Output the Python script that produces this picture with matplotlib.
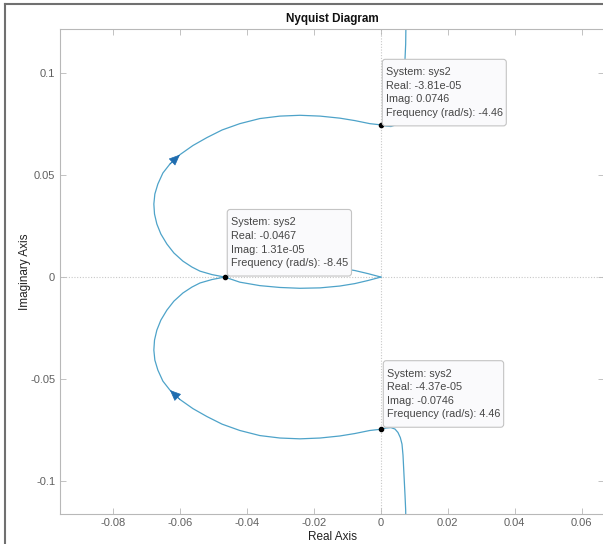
import matplotlib
matplotlib.use('Agg')
import matplotlib.pyplot as plt
from matplotlib.lines import Line2D
from matplotlib.patches import FancyBboxPatch
from matplotlib.transforms import IdentityTransform

# Nyquist curve, positive frequencies
pos_real = [0.0076, 0.0074, 0.0072, 0.0069, 0.0066, 0.0063, 0.0058, 0.0051,
            0.0042, 0.0030, 0.0015, 0.0, -0.0033, -0.0078, -0.0123, -0.0182,
            -0.0242, -0.0302, -0.0362, -0.0422, -0.0475, -0.0520, -0.0562,
            -0.0601, -0.0631, -0.0652, -0.0667, -0.0676, -0.0679, -0.0677,
            -0.0670, -0.0658, -0.0640, -0.0619, -0.0592, -0.0565, -0.0541,
            -0.0505, -0.0467, -0.0422, -0.0362, -0.0302, -0.0242, -0.0182,
            -0.0123, -0.0078, -0.0039, 0.0]
pos_imag = [-0.1387, -0.1142, -0.1069, -0.0971, -0.0873, -0.0819, -0.0787, -0.0762,
            -0.0745, -0.0738, -0.0740, -0.0746, -0.0752, -0.0767, -0.0779, -0.0789,
            -0.0793, -0.0789, -0.0777, -0.0752, -0.0721, -0.0684, -0.0645,
            -0.0600, -0.0554, -0.0510, -0.0456, -0.0407, -0.0358, -0.0309,
            -0.0260, -0.0211, -0.0162, -0.0118, -0.0078, -0.0049, -0.0029,
            -0.0012, 0.0, 0.0025, 0.0042, 0.0051, 0.0055, 0.0053,
            0.0044, 0.0032, 0.0017, 0.0]

# negative frequencies = complex conjugate
neg_real = list(pos_real)
neg_imag = [-v for v in pos_imag]

# data tips
tip_real = [-3.81e-05, -0.0467, -4.37e-05]
tip_imag = [0.0746, 1.31e-05, -0.0746]
tip_freq = [-4.46, -8.45, 4.46]
tip_offsets = [(5, 7), (6, 9), (6, 10)]

xticks = [-0.08, -0.06, -0.04, -0.02, 0, 0.02, 0.04, 0.06]
xtick_labels = ['-0.08', '-0.06', '-0.04', '-0.02', '0', '0.02', '0.04', '0.06']
yticks = [-0.1, -0.05, 0, 0.05, 0.1]
ytick_labels = ['-0.1', '-0.05', '0', '0.05', '0.1']

plt.rcParams['font.family'] = ['Liberation Sans', 'DejaVu Sans']
plt.rcParams['axes.unicode_minus'] = False

curve_color = '#4ea3c9'
arrow_color = '#1f6db0'
axis_gray = '#b8b8b8'
label_gray = '#606060'

fig = plt.figure(figsize=(6.03, 5.44), dpi=100)
ax = fig.add_axes([60 / 603, 1 - 513.5 / 544, 544 / 603, (513.5 - 29) / 544])

ax.set_xlim(-0.09596, 0.0667)
ax.set_ylim(-0.1159, 0.1216)

# zero lines
ax.axhline(0, color='#c8c8c8', lw=0.8, ls=(0, (1, 1.5)), zorder=1)
ax.axvline(0, color='#c8c8c8', lw=0.8, ls=(0, (1, 1.5)), zorder=1)

ax.plot(pos_real, pos_imag, color=curve_color, lw=0.9, zorder=2)
ax.plot(neg_real, neg_imag, color=curve_color, lw=0.9, zorder=2)

# direction arrows
arrow_style = dict(arrowstyle='-|>,head_length=0.7,head_width=0.3',
                   color=arrow_color, lw=0.5, shrinkA=0, shrinkB=0)
ax.annotate('', xy=(pos_real[24], pos_imag[24]), xytext=(pos_real[23], pos_imag[23]),
            arrowprops=arrow_style, zorder=3)
ax.annotate('', xy=(neg_real[23], neg_imag[23]), xytext=(neg_real[24], neg_imag[24]),
            arrowprops=arrow_style, zorder=3)

# data tips (text first, boxes sized from the text afterwards)
tip_texts = []
for re_, im_, fr, off in zip(tip_real, tip_imag, tip_freq, tip_offsets):
    ax.plot([re_], [im_], 'o', color='black', ms=3, zorder=5)
    txt = 'System: sys2\nReal: %.3g\nImag: %.3g\nFrequency (rad/s): %.3g' % (re_, im_, fr)
    t = ax.annotate(txt, xy=(re_, im_), xytext=off, textcoords='offset pixels',
                    ha='left', va='bottom', fontsize=7.8, color='#454545',
                    linespacing=1.44, zorder=7)
    tip_texts.append(t)

ax.set_xticks(xticks)
ax.set_xticklabels(xtick_labels)
ax.set_yticks(yticks)
ax.set_yticklabels(ytick_labels)
ax.tick_params(direction='in', length=4, width=0.6, colors=axis_gray,
               labelcolor=label_gray, labelsize=8, top=True, right=True)
for s in ax.spines.values():
    s.set_color(axis_gray)
    s.set_linewidth(0.8)

ax.set_title('Nyquist Diagram', fontsize=8.4, fontweight='bold', color='#111111', pad=5)
ax.set_xlabel('Real Axis', fontsize=8.5, color='#222222', labelpad=2)
ax.set_ylabel('Imaginary Axis', fontsize=8.5, color='#222222', labelpad=-1)

# window frame
fig.add_artist(Line2D([5 / 603, 5 / 603], [0, 1 - 4 / 544], transform=fig.transFigure,
                      color='#707070', lw=1.5))
fig.add_artist(Line2D([5 / 603, 1], [1 - 4 / 544, 1 - 4 / 544], transform=fig.transFigure,
                      color='#707070', lw=1.5))

fig.canvas.draw()
renderer = fig.canvas.get_renderer()
pad_x, pad_y = 3.5, 8
for t in tip_texts:
    bb = t.get_window_extent(renderer)
    box = FancyBboxPatch((bb.x0 - pad_x, bb.y0 - pad_y), bb.width + 2 * pad_x,
                         bb.height + 2 * pad_y,
                         boxstyle='round,pad=0,rounding_size=3',
                         transform=IdentityTransform(), fc='#fafafc', ec='#c4c4c4',
                         lw=0.8, zorder=6, clip_on=False)
    ax.add_artist(box)

fig.savefig('out.png', dpi=100)
